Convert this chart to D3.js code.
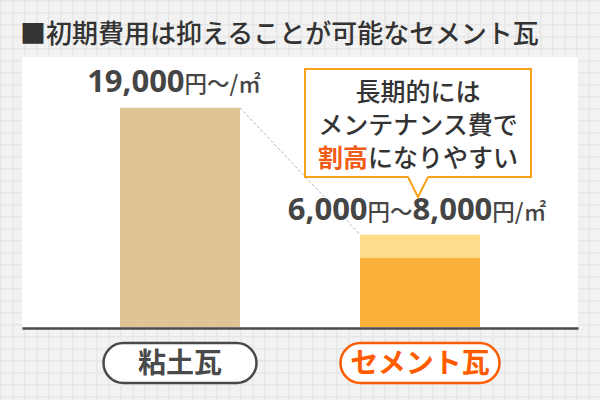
<!DOCTYPE html>
<html>
<head>
<meta charset="utf-8">
<script src="https://cdn.jsdelivr.net/npm/d3@7/dist/d3.min.js"></script>
<style>
  html, body { margin: 0; padding: 0; background: #f1f1f1; }
  svg { display: block; }
</style>
</head>
<body>
<svg id="chart" width="600" height="400"></svg>
<script>
// ---- data ----
const title = "■初期費用は抑えることが可能なセメント瓦";
const categories = ["粘土瓦", "セメント瓦"];
const lowCost = [19000, 6000];   // 円/㎡ (lower bound)
const highCost = [19000, 8000];  // 円/㎡ (upper bound)
const priceLabels = [
  [["19,000", "num"], ["円〜/㎡", "unit"]],
  [["6,000", "num"], ["円〜", "unit"], ["8,000", "num"], ["円/㎡", "unit"]]
];
const calloutLines = [
  [["長期的には", "n"]],
  [["メンテナンス費で", "n"]],
  [["割高", "h"], ["になりやすい", "n"]]
];

// ---- setup ----
const W = 600, H = 400;
const svg = d3.select("#chart");
const FONT = "'Open Sans', 'Noto Sans CJK JP', sans-serif";
const JP = "'Noto Sans CJK JP', sans-serif";

// background grid pattern
const defs = svg.append("defs");
const pat = defs.append("pattern").attr("id", "grid")
  .attr("width", 12).attr("height", 12).attr("patternUnits", "userSpaceOnUse");
pat.append("rect").attr("width", 12).attr("height", 12).attr("fill", "#f2f2f2");
pat.append("rect").attr("x", 0).attr("y", 0).attr("width", 12).attr("height", 1.5).attr("fill", "#e7e7e7");
pat.append("rect").attr("x", 0).attr("y", 0).attr("width", 1.5).attr("height", 12).attr("fill", "#e7e7e7");
svg.append("rect").attr("width", W).attr("height", H).attr("fill", "url(#grid)");

// title
svg.append("text").attr("x", 20).attr("y", 43)
  .attr("font-family", JP).attr("font-size", 26).attr("font-weight", 500)
  .attr("fill", "#333").text(title);

// plot panel
const panel = { left: 22, right: 578, top: 57, bottom: 327 };
svg.append("rect").attr("x", panel.left).attr("y", panel.top)
  .attr("width", panel.right - panel.left).attr("height", panel.bottom - panel.top)
  .attr("fill", "#fff");

const x = d3.scaleBand().domain(categories).range([60, 540])
  .paddingInner(0.5).paddingOuter(0.25);
const y = d3.scaleLinear().domain([0, 23400]).range([panel.bottom, panel.top]);

const barColors = ["#dfc594", "#fbb03b"];
const rangeColor = "#fddc8b";

// range portion (upper) for cement
svg.append("g").selectAll("rect.range").data(categories).join("rect")
  .attr("class", "range")
  .attr("x", d => x(d)).attr("width", x.bandwidth())
  .attr("y", (d, i) => y(highCost[i]))
  .attr("height", (d, i) => y(lowCost[i]) - y(highCost[i]))
  .attr("fill", rangeColor);

// main bars
svg.append("g").selectAll("rect.bar").data(categories).join("rect")
  .attr("class", "bar")
  .attr("x", d => x(d)).attr("width", x.bandwidth())
  .attr("y", (d, i) => y(lowCost[i]))
  .attr("height", (d, i) => y(0) - y(lowCost[i]))
  .attr("fill", (d, i) => barColors[i]);

// dashed connector
svg.append("line")
  .attr("x1", x(categories[0]) + x.bandwidth()).attr("y1", y(highCost[0]))
  .attr("x2", x(categories[1])).attr("y2", y(highCost[1]))
  .attr("stroke", "#b5b5b5").attr("stroke-width", 1)
  .attr("stroke-dasharray", "3,2");

// axis baseline
const axis = d3.axisBottom(d3.scaleLinear().range([panel.left, panel.right])).ticks(0).tickSize(0).tickFormat("");
const axG = svg.append("g").attr("transform", `translate(0,${panel.bottom + 1})`).call(axis);
axG.select(".domain").attr("stroke", "#4a4a4a").attr("stroke-width", 2.5);

// price labels
const labelY = [92, 220];
const labelDx = [-6, -3];
priceLabels.forEach((parts, i) => {
  const t = svg.append("text")
    .attr("x", x(categories[i]) + x.bandwidth() / 2 + labelDx[i])
    .attr("y", labelY[i])
    .attr("text-anchor", "middle")
    .attr("font-family", FONT).attr("fill", "#454545");
  parts.forEach(([s, k]) => {
    t.append("tspan").text(s)
      .attr("font-size", k === "num" ? 31 : 22.5)
      .attr("font-weight", k === "num" ? 700 : 500)
      .attr("font-family", k === "num" ? FONT : JP);
  });
});

// callout
const box = { x: 305, y: 69, w: 226, h: 108 };
const tipX = x(categories[1]) + x.bandwidth() / 2 - 2;
const orange = "#f9a11b";
svg.append("rect").attr("x", box.x).attr("y", box.y).attr("width", box.w).attr("height", box.h)
  .attr("fill", "#fff").attr("stroke", orange).attr("stroke-width", 2);
svg.append("path")
  .attr("d", `M${tipX - 10},${box.y + box.h - 1} L${tipX},${box.y + box.h + 19} L${tipX + 10},${box.y + box.h - 1} Z`)
  .attr("fill", "#fff").attr("stroke", "none");
svg.append("path")
  .attr("d", `M${tipX - 10},${box.y + box.h} L${tipX},${box.y + box.h + 20} L${tipX + 10},${box.y + box.h}`)
  .attr("fill", "none").attr("stroke", orange).attr("stroke-width", 2);

const lineBase = [101, 134, 167];
calloutLines.forEach((parts, i) => {
  const t = svg.append("text").attr("x", tipX).attr("y", lineBase[i])
    .attr("text-anchor", "middle").attr("font-family", JP)
    .attr("font-size", 25).attr("font-weight", 500).attr("fill", "#333");
  parts.forEach(([s, k]) => {
    t.append("tspan").text(s)
      .attr("fill", k === "h" ? "#f25c19" : "#333")
      .attr("font-weight", k === "h" ? 700 : 500);
  });
});

// category pills
const pillW = [153, 159];
const pillColors = ["#4a4a4a", "#ff5c00"];
categories.forEach((c, i) => {
  const cx = x(c) + x.bandwidth() / 2;
  svg.append("rect").attr("x", cx - pillW[i] / 2).attr("y", 343)
    .attr("width", pillW[i]).attr("height", 40).attr("rx", 20)
    .attr("fill", "#fff").attr("stroke", pillColors[i]).attr("stroke-width", 2.5);
  svg.append("text").attr("x", cx).attr("y", 373)
    .attr("text-anchor", "middle").attr("font-family", JP)
    .attr("font-size", 28).attr("font-weight", 700)
    .attr("fill", pillColors[i]).text(c);
});
</script>
</body>
</html>
